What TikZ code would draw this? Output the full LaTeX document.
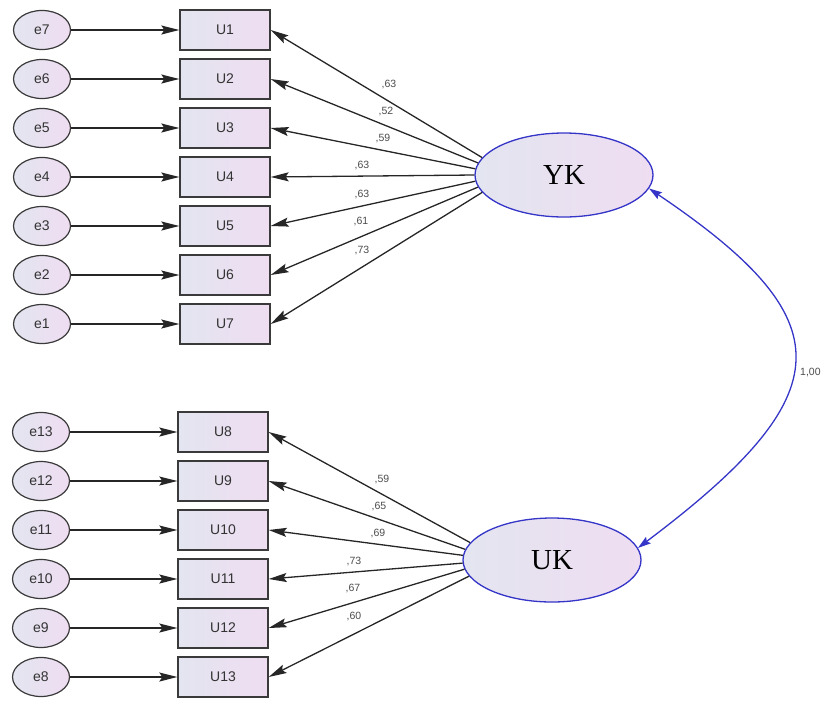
\documentclass[tikz,border=0pt]{standalone}
\usepackage{fontspec}
\setmainfont{Liberation Serif}
\newfontfamily\arialf{Liberation Sans}
\usetikzlibrary{arrows.meta,shapes.geometric}
\definecolor{boxL}{HTML}{E3E5F0}
\definecolor{boxR}{HTML}{EFDDF1}
\definecolor{latblue}{HTML}{3535C8}
\definecolor{edgegray}{HTML}{3A3A3A}
\begin{document}
\begin{tikzpicture}[x=1pt,y=-1pt,
 obs/.style={draw=edgegray, line width=1.3pt, left color=boxL, right color=boxR, minimum width=90pt, minimum height=40pt, inner sep=0pt, font=\arialf\fontsize{14}{15}\selectfont, text=black!80},
 err/.style={ellipse, draw=edgegray, line width=1.2pt, left color=boxL, right color=boxR, minimum width=57pt, minimum height=39pt, inner sep=0pt, font=\arialf\fontsize{14}{15}\selectfont, text=black!80},
 lat/.style={ellipse, draw=latblue, line width=1.3pt, left color=boxL, right color=boxR, minimum width=178pt, minimum height=84pt, inner sep=0pt, font=\fontsize{29}{31}\selectfont},
 pth/.style={draw=black!85, line width=1.3pt, -{Stealth[length=18pt,width=9pt,inset=3pt]}},
 cov/.style={draw=latblue, line width=1.3pt, {Stealth[length=13pt,width=8pt,inset=2pt]}-{Stealth[length=13pt,width=8pt,inset=2pt]}},
 lbl/.style={font=\arialf\fontsize{10.5}{11}\selectfont, text=black!70, inner sep=0pt}
]
\useasboundingbox (0,0) rectangle (827,702);

\node[lat] (YK) at (564,175) {YK};
\node[lat] (UK) at (552,560) {UK};

\foreach \i/\y/\e/\a in {1/30/7/168,2/79/6/172,3/128/5/176,4/177/4/180,5/226/3/184,6/275/2/188,7/324/1/192}{
  \node[obs] (U\i) at (225,\y) {U\i};
  \node[err] (e\e) at (42,\y) {e\e};
  \draw[pth] (e\e) -- (U\i.west);
  \draw[pth] (YK.\a) -- (U\i.east);
}
\foreach \i/\y/\e/\a in {8/432/13/168,9/481/12/173,10/530/11/177,11/579/10/182,12/628/9/186,13/677/8/191}{
  \node[obs] (U\i) at (223,\y) {U\i};
  \node[err] (e\e) at (41,\y) {e\e};
  \draw[pth] (e\e) -- (U\i.west);
  \draw[pth] (UK.\a) -- (U\i.east);
}

\foreach \n/\x/\y/\t in {a1/389/85/{,63},a2/386/112/{,52},a3/383/139/{,59},a4/362/166/{,63},a5/362/194/{,63},a6/361/222/{,61},a7/362/250/{,73},
  b1/382/479/{,59},b2/379/506/{,65},b3/378/533/{,69},b4/354/561/{,73},b5/353/588/{,67},b6/354/616/{,60}}{
  \node[lbl] (\n) at (\x,\y) {\t};
}

\draw[cov] (YK.-9) .. controls (844,320) and (844,393) .. (UK.8);
\node[lbl, anchor=west] (c1) at (800,372) {1,00};
\end{tikzpicture}
\end{document}
